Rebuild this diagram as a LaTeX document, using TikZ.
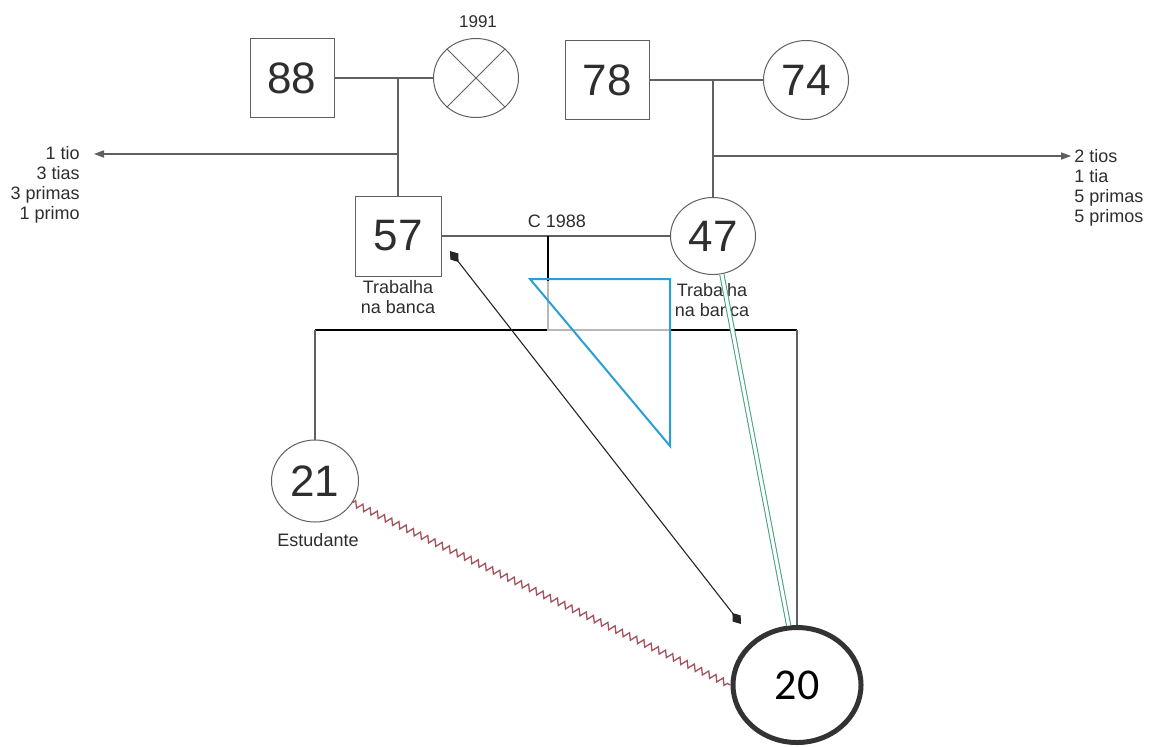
\documentclass[tikz,border=0pt]{standalone}
\usepackage{fontspec}
\setmainfont{Liberation Sans}
\newfontfamily\carlitofont{Carlito}
\usetikzlibrary{shapes.geometric,arrows.meta,decorations.pathmorphing}
\definecolor{linegrey}{HTML}{606060}
\definecolor{txt}{HTML}{2E2E2E}
\definecolor{triblue}{HTML}{2A9FD2}
\definecolor{zigred}{HTML}{A3525E}
\definecolor{dblgreen}{HTML}{3FA47C}
\begin{document}
\begin{tikzpicture}[x=0.5pt,y=-0.5pt,
  box/.style={draw=linegrey,line width=0.5pt,rectangle,minimum width=42pt,minimum height=39.5pt,inner sep=0pt,text=txt,font=\fontsize{22}{24}\selectfont},
  oval/.style={draw=linegrey,line width=0.5pt,ellipse,inner sep=0pt,text=txt,font=\fontsize{22}{24}\selectfont},
  lbl/.style={text=txt,font=\fontsize{9}{10}\selectfont,inner sep=0pt,align=center},
  conn/.style={draw=linegrey,line width=0.55pt},
  tip/.style={-{Triangle[length=5pt,width=3.6pt]}}
]
\useasboundingbox (0,0) rectangle (1149,746);
\fill[white] (0,0) rectangle (1149,746);

% grandparents
\node[box] (n88) at (292,78) {88};
\node[oval,minimum width=42.5pt,minimum height=39.5pt] (n91) at (476,78) {};
\draw[linegrey,line width=0.5pt] (n91.135) -- (n91.-45) (n91.45) -- (n91.-135);
\node[lbl,font=\fontsize{8.5}{10}\selectfont] (y91) at (478,22) {1991};
\node[box] (n78) at (607,80) {78};
\node[oval,minimum width=42.5pt,minimum height=39.5pt] (n74) at (806,80) {74};

% parents
\node[box,minimum width=43pt,minimum height=40pt] (n57) at (398,236) {57};
\node[oval,minimum width=42.5pt,minimum height=38.5pt] (n47) at (713,236) {47};

% children
\node[oval,minimum width=43.5pt,minimum height=41pt] (n21) at (315,481) {21};
\node[oval,line width=2.5pt,draw=black!80,minimum width=64pt,minimum height=57.5pt,font=\carlitofont\fontsize{22}{24}\selectfont,text=black] (n20) at (797,685) {20};

% coordinates
\coordinate (c1) at (398,78);
\coordinate (c2) at (713,80);
\coordinate (a1) at (398,154);
\coordinate (aL) at (94,154);
\coordinate (a2) at (713,156);
\coordinate (aR) at (1071,156);
\coordinate (m1) at (548,236);
\coordinate (m2) at (548,330);
\coordinate (sibL) at (315,330);
\coordinate (sibR) at (797,330);
\coordinate (d1) at (450,251);
\coordinate (d2) at (741,624);

% couple lines
\draw[conn] (n88.east) -- (n91.west);
\draw[conn] (c1) -- (n57.north);
\draw[conn,tip] (a1) -- (aL);
\draw[conn] (n78.east) -- (n74.west);
\draw[conn] (c2) -- (n47.north);
\draw[conn,tip] (a2) -- (aR);
\draw[conn] (n57.east) -- (n47.west);
\node[lbl] (c88) at (557,221) {C 1988};
\draw[black,line width=1pt] (m1) -- (m2);
\draw[black,line width=1.3pt] (sibL) -- (sibR);
\draw[conn] (sibL) -- (n21.north);
\draw[conn] (sibR) -- (n20.north);

% semi-transparent patch
\fill[white,opacity=0.72] (547,281) rectangle (669,336);
% triangle
\draw[triblue,line width=1pt,line join=miter] (530,279) -- (670,279) -- (670,446) -- cycle;

% labels
\node[lbl] (t57) at (398,297) {Trabalha\\na banca};
\node[lbl] (t47) at (712,300) {Trabalha\\na banca};
\node[lbl] (est) at (318,540) {Estudante};
\node[lbl,align=right,anchor=north east] (relL) at (80,146) {1 tio\\3 tias\\3 primas\\1 primo};
\node[lbl,align=left,anchor=north west] (relR) at (1074,149) {2 tios\\1 tia\\5 primas\\5 primos};

% special relationships
\draw[black!85,line width=0.55pt,{Diamond[length=7pt,width=5pt]}-{Diamond[length=7pt,width=5pt]}] (d1) -- (d2);
\draw[zigred,line width=0.65pt,decorate,decoration={zigzag,segment length=4pt,amplitude=1.6pt}] (n21.-30) -- (n20.west);
\draw[dblgreen,line width=0.5pt,double=white,double distance=1.6pt] (n47.-77) -- (n20.98);
\end{tikzpicture}
\end{document}
